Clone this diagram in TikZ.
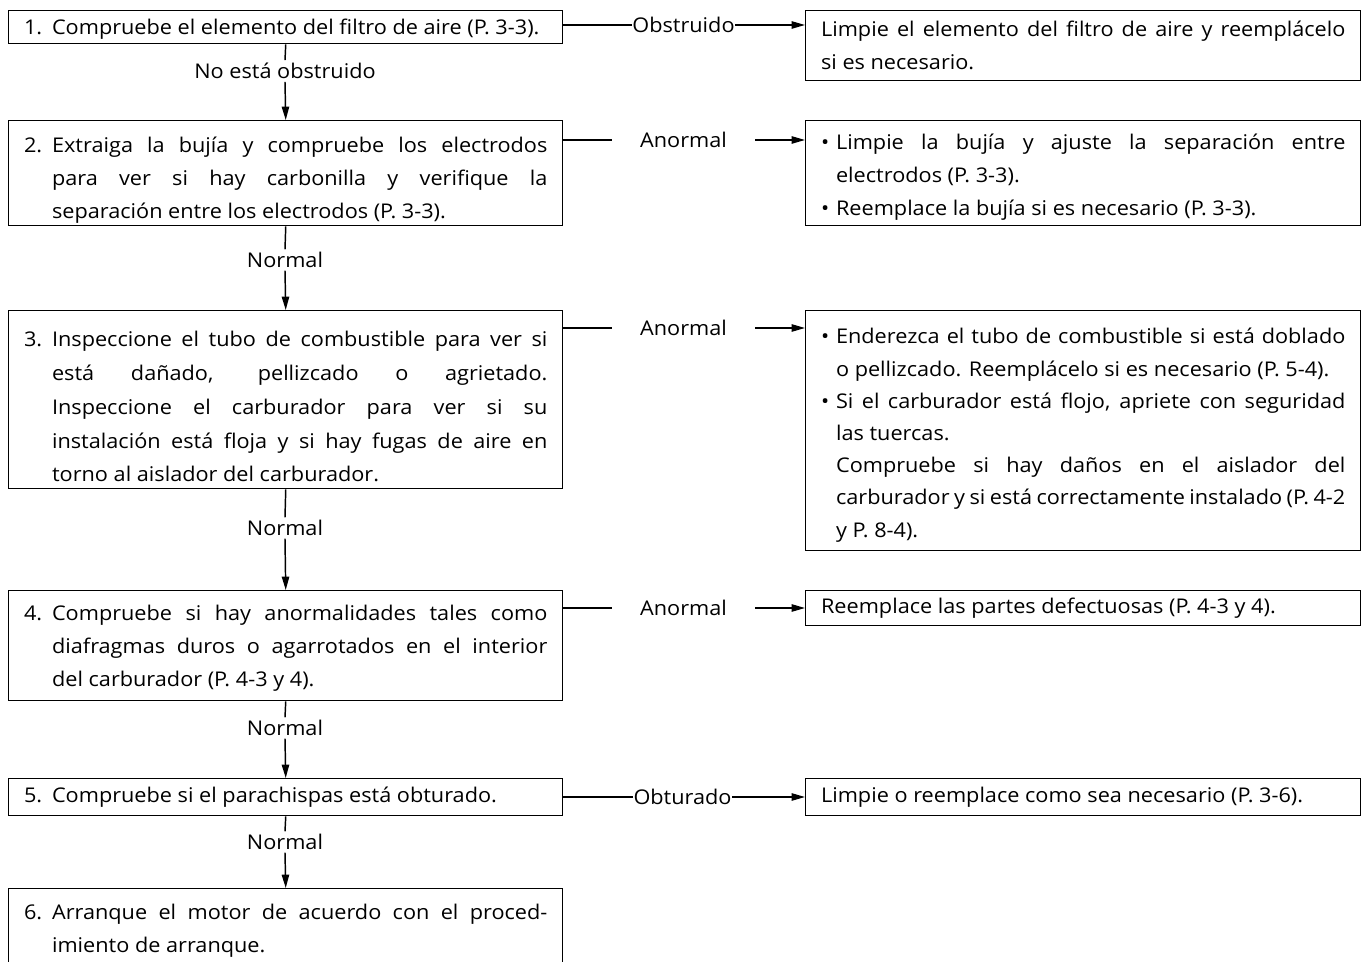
\documentclass[tikz,border=0pt]{standalone}
\usepackage{fontspec}
\setmainfont{Open Sans}[FakeStretch=1.07]
\usetikzlibrary{arrows.meta}
\newcommand\fs{\fontsize{15.2}{24.75}\selectfont}
\newcommand\stepnum[1]{\hangindent=21pt\hangafter=1\noindent\makebox[21pt][l]{#1}}
\newcommand\firstbul{\hangindent=11.25pt\hangafter=1\noindent\makebox[11.25pt][l]{\textbullet}}
\newcommand\bul{\par\firstbul}
\newcommand\contpar{\par\hangindent=11.25pt\hangafter=0\noindent}
\newcommand\tdown[1]{\rule{0pt}{#1}}
\begin{document}
\begin{tikzpicture}[x=0.75pt,y=-0.75pt,
  every node/.style={font=\fs},
  lbox/.style={draw, line width=1.1pt, rectangle, anchor=north west,
    inner xsep=11.5pt, inner ysep=0pt, text width=392.5pt,
    minimum width=415.5pt, align=justify},
  rbox/.style={lbox, text width=393.25pt, minimum width=416.25pt},
  conn/.style={line width=1.1pt},
  arr/.style={-{Triangle[length=10pt,width=5.5pt]}},
  hlbl/.style={inner xsep=0pt, inner ysep=1pt},
  vlbl/.style={inner xsep=1pt, inner ysep=2pt}]
\path[use as bounding box, clip] (0,0) rectangle (1368,962);
\fill[white] (0,0) rectangle (1368,962);
\tolerance=9999 \emergencystretch=20pt \hyphenpenalty=10000
% left boxes
\node[lbox, minimum height=33*0.75pt] (b1) at (8,10)
  {\stepnum{1.}\tdown{14.6pt}Compruebe el elemento del filtro de aire (P. 3-3).\par};
\node[lbox, minimum height=105*0.75pt] (b2) at (8,120)
  {\stepnum{2.}\tdown{22.1pt}Extraiga la bujía y compruebe los electrodos\linebreak
   para ver si hay carbonilla y verifique la\linebreak
   separación entre los electrodos (P. 3-3).\par};
\node[lbox, minimum height=178*0.75pt,
      font=\fontsize{15.2}{25.3}\selectfont] (b3) at (8,310)
  {\stepnum{3.}\tdown{22.1pt}Inspeccione el tubo de combustible para ver si\linebreak
   está dañado, pellizcado o agrietado.\linebreak
   Inspeccione el carburador para ver si su\linebreak
   instalación está floja y si hay fugas de aire en\linebreak
   torno al aislador del carburador.\par};
\node[lbox, minimum height=110*0.75pt] (b4) at (8,590)
  {\stepnum{4.}\tdown{14.6pt}Compruebe si hay anormalidades tales como\linebreak
   diafragmas duros o agarrotados en el interior\linebreak
   del carburador (P. 4-3 y 4).\par};
\node[lbox, minimum height=37*0.75pt] (b5) at (8,778)
  {\stepnum{5.}Compruebe si el parachispas está obturado.\par};
\node[lbox, minimum height=80*0.75pt] (b6) at (8,888)
  {\stepnum{6.}\tdown{14.6pt}Arranque el motor de acuerdo con el proced-\linebreak
   imiento de arranque.\par};
% right boxes
\node[rbox, minimum height=70*0.75pt] (r1) at (805,10)
  {\noindent Limpie el elemento del filtro de aire y reemplácelo\linebreak
   si es necesario.\par};
\node[rbox, minimum height=105*0.75pt] (r2) at (805,120)
  {\firstbul\tdown{16.85pt}Limpie la bujía y ajuste la separación entre\linebreak
   electrodos (P. 3-3).
   \bul Reemplace la bujía si es necesario (P. 3-3).\par};
\node[rbox, minimum height=240*0.75pt,
      font=\fontsize{15.2}{24.15}\selectfont] (r3) at (805,310)
  {\firstbul\tdown{18.35pt}Enderezca el tubo de combustible si está doblado\linebreak
   o pellizcado. Reemplácelo si es necesario (P. 5-4).
   \bul Si el carburador está flojo, apriete con seguridad\linebreak
   las tuercas.
   \contpar Compruebe si hay daños en el aislador del\linebreak
   carburador y si está correctamente instalado (P. 4-2\linebreak
   y P. 8-4).\par};
\node[rbox, minimum height=35*0.75pt] (r4) at (805,590)
  {\noindent Reemplace las partes defectuosas (P. 4-3 y 4).\par};
\node[rbox, minimum height=37*0.75pt] (r5) at (805,778)
  {\noindent Limpie o reemplace como sea necesario (P. 3-6).\par};
% horizontal labels
\node[hlbl, minimum width=103*0.75pt] (h1) at (683.5,25) {Obstruido};
\node[hlbl, minimum width=143*0.75pt] (h2) at (683.5,140) {Anormal};
\node[hlbl, minimum width=143*0.75pt] (h3) at (683.5,328) {Anormal};
\node[hlbl, minimum width=143*0.75pt] (h4) at (683.5,608) {Anormal};
\node[hlbl, minimum width=99*0.75pt] (h5) at (682.5,797) {Obturado};
\foreach \i in {1,...,5}{
  \draw[conn] (b\i.east |- h\i) -- (h\i.west);
  \draw[conn,arr] (h\i.east) -- (r\i.west |- h\i);
}
% vertical labels
\node[vlbl] (v1) at (285,71) {No está obstruido};
\node[vlbl] (v2) at (285,260) {Normal};
\node[vlbl] (v3) at (285,528) {Normal};
\node[vlbl] (v4) at (285,728) {Normal};
\node[vlbl] (v5) at (285,842) {Normal};
\foreach \i/\j in {1/2,2/3,3/4,4/5,5/6}{
  \draw[conn] (b\i.south) -- (v\i.north);
  \draw[conn,arr] (v\i.south) -- (b\j.north);
}
\end{tikzpicture}
\end{document}
